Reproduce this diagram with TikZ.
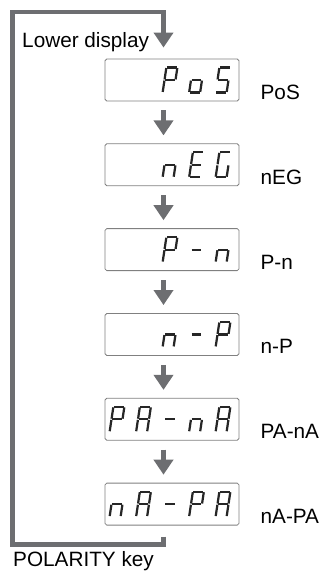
\documentclass[tikz,border=0pt]{standalone}
\usepackage{fontspec}
\setmainfont{Liberation Sans}
\usetikzlibrary{arrows.meta,calc,positioning}

\definecolor{keygray}{HTML}{6D6E71}
\definecolor{lcdgray}{HTML}{808080}

% segment sets of the seven-segment characters
\def\glP{a,b,e,f,g}
\def\glo{c,d,e,g}
\def\glS{a,c,d,f,g}
\def\gln{c,e,g}
\def\glE{a,d,e,f,g}
\def\glG{a,c,d,e,f}
\def\glA{a,b,c,e,f,g}
\def\gldash{g}

% one character: #1 box, #2 x offset from box centre, #3 segment set
\newcommand{\lcdchar}[3]{%
  \begin{scope}[shift={($(#1.center)+(#2,0)$)}, xslant=0.15]
    \foreach \s/\xa/\ya/\xb/\yb in {a/-5.5/-12.5/5.5/-12.5, b/5.5/-12.5/5.5/0,
        c/5.5/0/5.5/12.5, d/-5.5/12.5/5.5/12.5, e/-5.5/0/-5.5/12.5,
        f/-5.5/-12.5/-5.5/0, g/-5.5/0/5.5/0}
      {\coordinate (\s-1) at (\xa,\ya); \coordinate (\s-2) at (\xb,\yb);}
    \foreach \s in #3 {\draw[seg] (\s-1) -- (\s-2);}
  \end{scope}}

\begin{document}
\begin{tikzpicture}[
    x=0.03cm, y=-0.03cm, node distance=1.26cm,
    lcdbox/.style={draw=lcdgray, line width=0.7pt, rounded corners=1.5pt, minimum width=4.02cm, minimum height=1.26cm, inner sep=0pt},
    seg/.style={line width=1.9pt, draw=black!85, shorten <=0.5pt, shorten >=0.5pt},
    flow/.style={-{Triangle[width=0.57cm,length=0.45cm]}, line width=0.17cm, draw=keygray, shorten <=0.27cm, shorten >=0.24cm},
    loopline/.style={-{Triangle[width=0.57cm,length=0.45cm]}, line width=0.14cm, draw=keygray},
    val/.style={font=\fontsize{17.7}{21}\selectfont, anchor=base west, inner sep=0pt},
    keytext/.style={font=\fontsize{17.7}{21}\selectfont, anchor=base west, inner sep=0pt}
]
\useasboundingbox (0,0) rectangle (323,571);

\node[lcdbox] (pos) at (172,80) {};
\node[lcdbox, below=of pos] (neg) {};
\node[lcdbox, below=of neg] (pn) {};
\node[lcdbox, below=of pn] (np) {};
\node[lcdbox, below=of np] (pana) {};
\node[lcdbox, below=of pana] (napa) {};

% display contents
\lcdchar{pos}{-2}{\glP} \lcdchar{pos}{24.5}{\glo} \lcdchar{pos}{51}{\glS}
\lcdchar{neg}{-2}{\gln} \lcdchar{neg}{24.5}{\glE} \lcdchar{neg}{51}{\glG}
\lcdchar{pn}{-2}{\glP} \lcdchar{pn}{24.5}{\gldash} \lcdchar{pn}{51}{\gln}
\lcdchar{np}{-2}{\gln} \lcdchar{np}{24.5}{\gldash} \lcdchar{np}{51}{\glP}
\lcdchar{pana}{-55}{\glP} \lcdchar{pana}{-28.5}{\glA} \lcdchar{pana}{-2}{\gldash}
\lcdchar{pana}{24.5}{\gln} \lcdchar{pana}{51}{\glA}
\lcdchar{napa}{-55}{\gln} \lcdchar{napa}{-28.5}{\glA} \lcdchar{napa}{-2}{\gldash}
\lcdchar{napa}{24.5}{\glP} \lcdchar{napa}{51}{\glA}

\node[val] (posval) at ($(pos.south east)+(21,-2)$) {PoS};
\node[val] (negval) at ($(neg.south east)+(21,-2)$) {nEG};
\node[val] (pnval) at ($(pn.south east)+(21,-2)$) {P-n};
\node[val] (npval) at ($(np.south east)+(21,-2)$) {n-P};
\node[val] (panaval) at ($(pana.south east)+(21,-2)$) {PA-nA};
\node[val] (napaval) at ($(napa.south east)+(21,-2)$) {nA-PA};

% key loop
\coordinate (tr) at (163.5,12);
\coordinate (tl) at (12.5,12);
\coordinate (bl) at (12.5,544.5);
\draw[loopline] ($(napa.south -| tr)+(0,11)$) |- (bl) -- (tl) -- (tr) -- ($(pos.north -| tr)+(0,-11)$);

\draw[flow] (pos.south -| tr) -- (neg.north -| tr);
\draw[flow] (neg.south -| tr) -- (pn.north -| tr);
\draw[flow] (pn.south -| tr) -- (np.north -| tr);
\draw[flow] (np.south -| tr) -- (pana.north -| tr);
\draw[flow] (pana.south -| tr) -- (napa.north -| tr);

\node[keytext] (lower) at (22,48) {Lower display};
\node[keytext] (polkey) at (13,566) {POLARITY key};
\end{tikzpicture}
\end{document}
